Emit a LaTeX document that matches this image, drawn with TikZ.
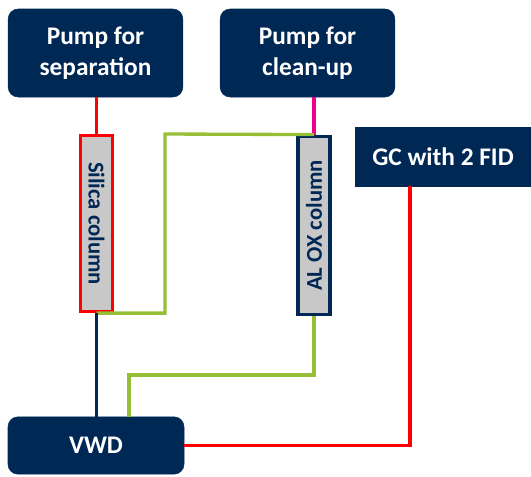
\documentclass[tikz,border=0pt]{standalone}
\usepackage{fontspec}
\setmainfont{Carlito}
\definecolor{navy}{RGB}{0,40,85}
\definecolor{lgreen}{RGB}{150,190,55}
\definecolor{colgray}{RGB}{200,200,200}
\begin{document}
\begin{tikzpicture}[x=0.75pt,y=0.75pt,
  unit/.style={fill=navy, draw=navy, text=white, font=\bfseries\fontsize{19}{23}\selectfont, align=center, inner sep=0pt},
  rbox/.style={unit, rounded corners=7.5pt},
  colbox/.style={fill=colgray, line width=2.4pt, text=navy, font=\bfseries\fontsize{17}{20}\selectfont, inner sep=0pt},
  pipe/.style={line width=2.5pt},
]
\useasboundingbox (0,0) rectangle (531,-476);
\node[rbox, minimum width=131pt, minimum height=66pt] (psep) at (95.5,-53) {Pump for\\separation};
\node[rbox, minimum width=131pt, minimum height=66pt] (pclean) at (307.5,-53) {Pump for\\clean-up};
\node[unit, minimum width=132pt, minimum height=44pt] (gc) at (443,-156.5) {GC with 2 FID};
\node[rbox, minimum width=132pt, minimum height=43pt] (vwd) at (96,-445.5) {VWD};
\node[colbox, draw=red, minimum width=132pt, minimum height=23.5pt, rotate=-90] (silica) at (96.5,-223.5) {Silica column};
\node[colbox, draw=navy, minimum width=134pt, minimum height=24pt, rotate=90] (alox) at (314,-225.5) {AL OX column};
\coordinate (gx) at (165,-134);
\coordinate (g2) at (129,-375);
\coordinate (r) at (410,-186);
\draw[pipe, red] (psep.south -| silica.west) -- (silica.west);
\draw[pipe, magenta] (pclean.south -| alox.east) -- (alox.east);
\draw[pipe, lgreen] (silica.east) -| (gx) -- (alox.east);
\draw[line width=1.8pt, navy] (silica.east) -- (vwd.north -| silica.east);
\draw[pipe, lgreen] (alox.west) |- (g2) -- (vwd.north -| g2);
\draw[pipe, red] (vwd.east) -| (r);
\end{tikzpicture}
\end{document}
